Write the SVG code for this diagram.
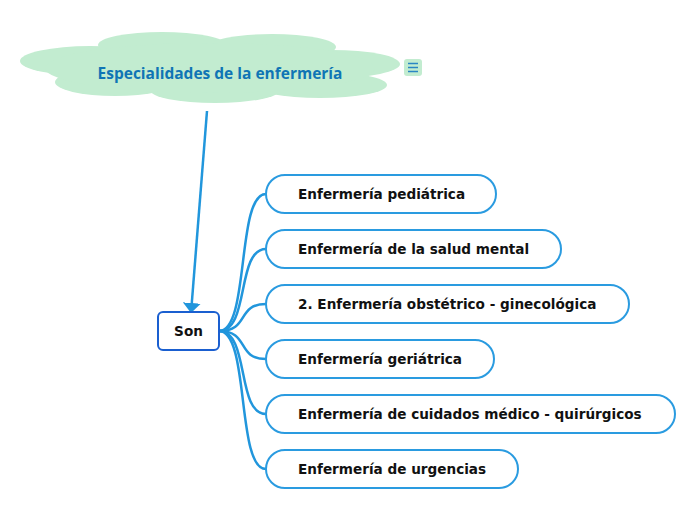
<svg xmlns="http://www.w3.org/2000/svg" width="696" height="520" viewBox="0 0 696 520">
<style>
.cloud{fill:#c2ecd0}
.topic rect{fill:#fff;stroke:#2a9be0;stroke-width:2}
.topic text{font-family:"DejaVu Sans",Verdana,sans-serif;font-weight:bold;font-size:13.6px;fill:#111}
.conn{fill:none;stroke:#2196dc;stroke-width:2.5}
</style>
<defs>
<marker id="arr" markerWidth="10" markerHeight="18" refX="10" refY="9" orient="auto" markerUnits="userSpaceOnUse" viewBox="0 0 10 18">
<path d="M0,0 L10,9 L0,18 Z" fill="#2196dc"/>
</marker>
</defs>
<rect width="696" height="520" fill="#fff"/>
<g id="root">
<ellipse class="cloud" cx="90" cy="61" rx="70" ry="15"/>
<ellipse class="cloud" cx="162" cy="45" rx="64" ry="13"/>
<ellipse class="cloud" cx="272" cy="47" rx="64" ry="13"/>
<ellipse class="cloud" cx="332" cy="64" rx="68" ry="14"/>
<ellipse class="cloud" cx="320" cy="85" rx="67" ry="13"/>
<ellipse class="cloud" cx="215" cy="90" rx="65" ry="13"/>
<ellipse class="cloud" cx="115" cy="82" rx="60" ry="14"/>
<ellipse class="cloud" cx="210" cy="68" rx="165" ry="25"/>
<text x="220" y="79" text-anchor="middle" font-family="'Open Sans',sans-serif" font-weight="bold" font-size="15.5" fill="#0f75b5">Especialidades de la enfermería</text>
<rect x="404" y="59" width="18" height="17" rx="3" fill="#c2ecd0"/>
<path d="M408,63.5h10M408,67.5h10M408,71.5h10" stroke="#2a86c4" stroke-width="1.6"/>
</g>
<g id="connectors">
<line class="conn" x1="207" y1="111" x2="191" y2="313" marker-end="url(#arr)"/>
<path class="conn" d="M219,331 C250,331 236,194 266,194"/>
<path class="conn" d="M219,331 C250,331 236,249 266,249"/>
<path class="conn" d="M219,331 C250,331 236,304 266,304"/>
<path class="conn" d="M219,331 C250,331 236,359 266,359"/>
<path class="conn" d="M219,331 C250,331 236,414 266,414"/>
<path class="conn" d="M219,331 C250,331 236,469 266,469"/>
</g>
<g id="son" class="topic">
<rect x="158" y="312" width="61" height="38" rx="5" style="stroke:#1a5fd0"/>
<text x="188.5" y="336" text-anchor="middle">Son</text>
</g>
<g id="n1" class="topic">
<rect x="266" y="175" width="230" height="38" rx="19"/>
<text x="298" y="199">Enfermería pediátrica</text>
</g>
<g id="n2" class="topic">
<rect x="266" y="230" width="295" height="38" rx="19"/>
<text x="298" y="254">Enfermería de la salud mental</text>
</g>
<g id="n3" class="topic">
<rect x="266" y="285" width="363" height="38" rx="19"/>
<text x="298" y="309">2. Enfermería obstétrico - ginecológica</text>
</g>
<g id="n4" class="topic">
<rect x="266" y="340" width="228" height="38" rx="19"/>
<text x="298" y="364">Enfermería geriátrica</text>
</g>
<g id="n5" class="topic">
<rect x="266" y="395" width="409" height="38" rx="19"/>
<text x="298" y="419">Enfermería de cuidados médico - quirúrgicos</text>
</g>
<g id="n6" class="topic">
<rect x="266" y="450" width="252" height="38" rx="19"/>
<text x="298" y="474">Enfermería de urgencias</text>
</g>
</svg>
